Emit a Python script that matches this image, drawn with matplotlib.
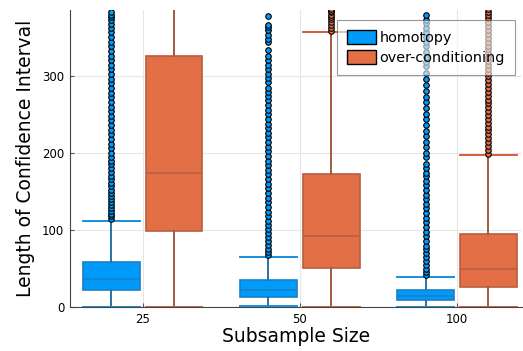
import matplotlib
matplotlib.use("Agg")
import matplotlib.pyplot as plt
from matplotlib.patches import Patch

# data
sizes = ["25", "50", "100"]
series = ["homotopy", "over-conditioning"]

# per group: (low whisker, q1, median, q3, high whisker)
homotopy_stats = [(0, 22.4, 36.3, 58.3, 111.5),
                  (2, 13.7, 22.4, 35.4, 65.6),
                  (1, 9.5, 15.0, 22.4, 39.7)]
overcond_stats = [(0, 99, 174.5, 325, 430),
                  (0, 51.4, 92.8, 173, 356.5),
                  (0, 26, 49.7, 94.6, 197)]

homotopy_out = [
    [114, 118, 121, 125, 129, 132, 136, 140, 144, 148, 152, 157, 161, 166, 170,
     175, 180, 185, 190, 195, 200, 206, 212, 218, 224, 230, 236, 242, 248, 254,
     260, 266, 272, 278, 284, 290, 296, 302, 308, 314, 320, 326, 332, 338, 344,
     350, 356, 362, 367, 372, 376, 379, 382],
    [68, 72, 76, 81, 86, 91, 96, 101, 106, 112, 118, 124, 130, 136, 142, 148,
     154, 160, 166, 172, 178, 184, 190, 196, 202, 208, 214, 220, 226, 232, 238,
     244, 250, 256, 262, 268, 274, 279, 284, 292, 297, 302, 308, 314, 320, 326,
     333, 343, 348, 353, 359, 363, 366, 377],
    [42, 46, 50, 55, 60, 65, 70, 75, 80, 86, 92, 98, 104, 110, 116, 122, 128,
     134, 140, 146, 152, 158, 164, 170, 174, 180, 186, 194, 200, 208, 214, 222,
     228, 236, 244, 250, 258, 266, 272, 280, 288, 296, 304, 312, 318, 324, 330,
     338, 344, 350, 356, 362, 368, 372, 378],
]
overcond_out = [
    [],
    [358, 362, 366, 370, 373, 376, 379, 382, 384, 386],
    [199, 204, 209, 214, 219, 224, 229, 234, 239, 244, 249, 254, 259, 264, 269,
     274, 279, 284, 289, 294, 299, 304, 309, 314, 319, 324, 329, 334, 339, 344,
     349, 354, 359, 364, 369, 374, 378, 382, 386],
]

blue = "#009AFA"
orange = "#E36F47"

fig = plt.figure(figsize=(5.23, 3.51), dpi=100)
ax = fig.add_axes([0.1338, 0.1245, 0.864, 0.847])


def stats(s, out):
    return [dict(whislo=a[0], q1=a[1], med=a[2], q3=a[3], whishi=a[4], fliers=f)
            for a, f in zip(s, out)]


centers = [1, 2, 3]
w = 0.36
for st, out, off, fc, ec, wc, cc in [
        (homotopy_stats, homotopy_out, -0.2, blue, "#1A80C8", "#2A72A8", "#1590E0"),
        (overcond_stats, overcond_out, 0.2, orange, "#B85F40", "#A05A45", "#D0603A")]:
    ax.bxp(stats(st, out), positions=[c + off for c in centers], widths=w,
           capwidths=w, patch_artist=True, showfliers=True,
           boxprops=dict(facecolor=fc, edgecolor=ec, linewidth=1.2),
           medianprops=dict(color=ec, linewidth=1.2),
           whiskerprops=dict(color=wc, linewidth=1.4),
           capprops=dict(color=cc, linewidth=1.4),
           flierprops=dict(marker="o", markerfacecolor=fc, markeredgecolor="black",
                           markeredgewidth=0.8, markersize=4.0, linestyle="none"))

ax.set_xlim(0.5375, 3.413)
ax.set_ylim(0, 385)
ax.set_xticks(centers)
ax.set_xticklabels(sizes)
ax.set_yticks([0, 100, 200, 300])
ax.grid(True, color="#e6e6e6", linewidth=0.8)
ax.set_axisbelow(True)
for s in ["top", "right"]:
    ax.spines[s].set_visible(False)
for s in ["left", "bottom"]:
    ax.spines[s].set_color("#444444")
ax.tick_params(direction="in", length=3, color="#555555", labelsize=8.5, pad=4)
ax.set_xlabel("Subsample Size", fontsize=13.5, labelpad=1)
ax.set_ylabel("Length of Confidence Interval", fontsize=13.5, labelpad=5)

handles = [Patch(facecolor=blue, edgecolor="black", label=series[0]),
           Patch(facecolor=orange, edgecolor="black", label=series[1])]
leg = ax.legend(handles=handles, loc="upper right", bbox_to_anchor=(0.985, 0.966),
                borderaxespad=0, fancybox=False, framealpha=0.6, edgecolor="#555555",
                fontsize=10.4, handlelength=2.0, handleheight=1.1, handletextpad=0.25,
                borderpad=0.7, labelspacing=0.35)
leg.get_frame().set_linewidth(0.8)
leg.set_zorder(10)

plt.savefig("out.png", dpi=100)
